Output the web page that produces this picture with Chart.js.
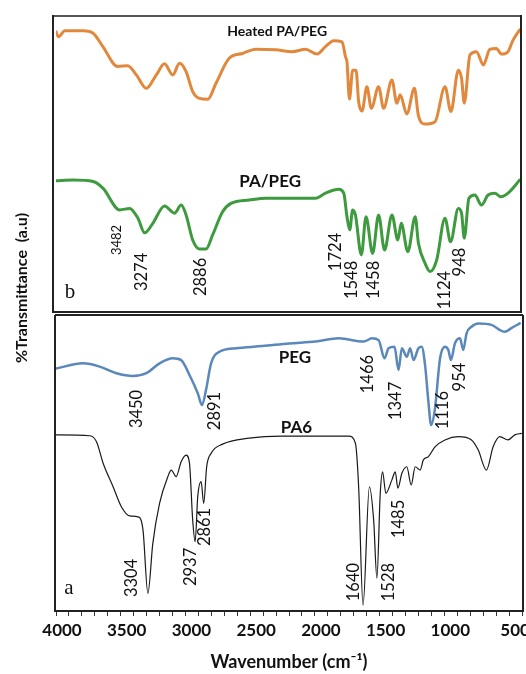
<!DOCTYPE html>
<html><head><meta charset="utf-8">
<script src="https://cdn.jsdelivr.net/npm/chart.js@4.4.1/dist/chart.umd.min.js"></script>
<style>html,body{margin:0;padding:0;background:#fff;}#wrap{position:relative;width:526px;height:674px;}canvas{display:block;}</style>
</head><body><div id="wrap"><canvas id="c" width="526" height="674"></canvas></div>
<script>
// ---- Data (wavenumber in cm-1, transmittance in arbitrary offset units) ----
const heatedWn = [4000,3982,3931,3790,3713,3638,3523,3446,3379,3302,3225,3162,3098,3046,2995,2944,2892,2828,2764,2662,2559,2456,2302,2175,2072,1982,1918,1854,1790,1764,1752,1733,1708,1682,1662,1636,1598,1564,1508,1469,1405,1367,1341,1290,1231,1200,1149,1072,995,949,892,867,846,802,752,698,649,598,559,508,470,418];
const heatedT  = [194.4,192.7,194.7,194.7,193.9,189.4,182.7,183.0,179.9,175.4,179.9,183.6,179.9,183.8,181.0,174.3,172.0,171.7,177.1,185.5,187.1,188.5,188.3,187.7,188.5,186.9,189.4,191.4,191.0,186.0,184.2,171.8,181.5,181.5,170.9,167.8,175.9,168.7,175.9,168.7,178.2,170.4,173.2,166.8,175.4,166.2,163.4,164.2,175.9,167.6,181.5,178.8,170.4,186.6,187.7,183.2,188.5,188.8,186.9,187.7,191.5,195.0];

const paPegWn = [4000,3867,3713,3636,3508,3431,3367,3315,3252,3162,3085,3033,2995,2944,2892,2841,2790,2713,2648,2508,2379,2200,1995,1918,1815,1777,1752,1731,1708,1687,1641,1605,1554,1508,1462,1405,1359,1333,1282,1225,1200,1149,1110,1059,995,952,892,867,846,810,764,713,662,610,564,508,418];
const paPegT  = [144.4,144.6,144.1,141.8,134.6,135.1,131.8,126.9,130.1,135.9,133.5,136.2,132.9,124.5,121.5,121.5,126.2,134.0,136.8,137.9,138.5,138.5,138.5,140.2,141.5,140.2,132.3,127.9,134.6,132.9,119.5,132.3,120.0,132.9,121.1,132.9,124.5,130.1,120.6,132.3,123.4,116.7,113.9,117.8,131.8,123.9,135.1,133.5,125.1,138.5,139.6,136.2,139.6,140.2,139.0,140.2,144.6];

const pegWn = [4000,3790,3662,3533,3405,3302,3200,3098,3033,2969,2905,2872,2841,2802,2738,2610,2405,2200,1995,1815,1623,1559,1508,1462,1431,1385,1354,1328,1290,1264,1238,1200,1175,1149,1123,1102,1072,1033,995,969,949,918,879,854,828,790,738,636,533,482,418];
const pegT  = [81.4,83.1,82.0,79.8,78.9,79.8,83.1,84.8,84.2,79.2,73.1,69.1,74.2,83.1,87.0,88.2,88.9,89.8,90.4,91.5,90.4,91.5,90.9,84.8,88.2,88.7,80.9,88.2,85.3,88.2,84.2,88.2,88.7,82.6,70.2,62.4,68.0,84.8,88.7,87.6,84.2,89.8,91.5,87.6,93.2,95.4,96.5,96.0,93.7,94.9,96.5];

const pa6Wn = [4000,3738,3687,3636,3559,3495,3431,3367,3328,3290,3252,3200,3136,3110,3072,3033,2995,2969,2944,2925,2905,2879,2859,2836,2802,2713,2508,2252,1995,1738,1687,1662,1628,1579,1546,1521,1495,1477,1452,1405,1379,1359,1328,1290,1256,1225,1187,1162,1123,1072,995,892,790,738,675,623,572,508,456,405];
const pa6T  = [59.1,58.8,56.8,49.6,41.7,35.0,31.9,31.6,27.2,5.9,22.7,36.1,45.1,47.3,45.1,50.1,52.3,49.6,30.5,23.3,38.4,43.4,36.1,48.4,52.9,56.0,58.0,58.7,58.7,58.7,56.3,41.7,2.0,41.7,30.5,11.0,39.5,46.7,39.5,44.0,46.7,41.2,46.2,48.4,42.3,48.4,47.3,50.7,51.8,55.1,57.4,58.5,57.4,54.0,47.3,55.1,58.5,57.4,59.1,59.6];

const xTickLabels = [4000,3500,3000,2500,2000,1500,1000,500];
const minorTickStep = 100;

const seriesNames = ['Heated PA/PEG','PA/PEG','PEG','PA6'];
const seriesNameWn = [2292,2346,2154,2142];
const seriesNameT  = [194.6,144.1,84.9,61.7];

const peakText = ['3482','3274','2886','1724','1548','1458','1124','948','3450','2891','1466','1347','1116','954','3304','2937','2861','1640','1528','1485'];
const peakWn   = [3527,3342,2885,1842,1715,1546,1000,885,3373,2773,1596,1373,1015,885,3419,2962,2850,1700,1431,1354];
const peakT    = [124.5,113.8,112.1,120.5,111.1,111.1,107.7,117.1,67.8,67.1,79.5,70.5,67.4,78.5,11.1,14.8,28.2,9.7,9.7,30.9];

const panelLetters = ['b','a'];
const panelLetterWn = [3892,3900];
const panelLetterT  = [107.0,7.7];

const toXY = (wn, t) => wn.map((w, i) => ({x: w, y: t[i]}));

const framePlugin = {
  id: 'frames',
  afterDraw(chart) {
    const {ctx, chartArea: a, scales: {y}} = chart;
    const mid = y.getPixelForValue(100);
    ctx.save();
    ctx.strokeStyle = '#222';
    ctx.lineWidth = 2;
    // top panel (b)
    ctx.strokeStyle = '#555';
    ctx.beginPath(); ctx.moveTo(a.left - 3, a.top + 1); ctx.lineTo(a.right - 1, a.top + 1); ctx.stroke();
    ctx.strokeStyle = '#222';
    ctx.beginPath();
    ctx.moveTo(a.left - 3, a.top); ctx.lineTo(a.left - 3, mid - 1);
    ctx.lineTo(a.right - 1, mid - 1); ctx.lineTo(a.right - 1, a.top);
    ctx.stroke();
    // bottom panel (a)
    ctx.beginPath();
    ctx.moveTo(a.left - 1, mid + 2); ctx.lineTo(a.right + 1, mid + 2);
    ctx.moveTo(a.left - 1, mid + 2); ctx.lineTo(a.left - 1, a.bottom);
    ctx.lineTo(a.right + 1, a.bottom); ctx.lineTo(a.right + 1, mid + 2);
    ctx.stroke();
    ctx.restore();
  }
};

const textPlugin = {
  id: 'texts',
  afterDatasetsDraw(chart) {
    const {ctx, scales: {x, y}} = chart;
    ctx.save();
    ctx.fillStyle = '#111';
    ctx.textAlign = 'center';
    ctx.textBaseline = 'middle';
    // series names
    seriesNames.forEach((s, i) => {
      ctx.font = (i === 0 ? 'bold 14px Lato' : 'bold 17px Lato');
      ctx.fillText(s, x.getPixelForValue(seriesNameWn[i]), y.getPixelForValue(seriesNameT[i]));
    });
    // peak labels (rotated)
    peakText.forEach((s, i) => {
      ctx.save();
      ctx.translate(x.getPixelForValue(peakWn[i]), y.getPixelForValue(peakT[i]));
      ctx.rotate(-Math.PI / 2);
      ctx.font = (s === '3482' ? '13px Lato' : '16.5px Lato');
      ctx.fillText(s, 0, 0);
      ctx.restore();
    });
    // panel letters
    ctx.font = '21px "Liberation Serif"';
    panelLetters.forEach((s, i) => {
      ctx.fillText(s, x.getPixelForValue(panelLetterWn[i]), y.getPixelForValue(panelLetterT[i]));
    });
    // y-axis title
    ctx.save();
    ctx.translate(22, 288);
    ctx.rotate(-Math.PI / 2);
    ctx.font = 'bold 16px Lato';
    ctx.fillText('%Transmittance  (a.u)', 0, 0);
    ctx.restore();
    ctx.restore();
  }
};

new Chart(document.getElementById('c'), {
  type: 'line',
  data: {
    datasets: [
      {label: seriesNames[0], data: toXY(heatedWn, heatedT), borderColor: '#E2883C', borderWidth: 3},
      {label: seriesNames[1], data: toXY(paPegWn, paPegT), borderColor: '#3E9A3E', borderWidth: 3},
      {label: seriesNames[2], data: toXY(pegWn, pegT), borderColor: '#5B88BA', borderWidth: 2.5},
      {label: seriesNames[3], data: toXY(pa6Wn, pa6T), borderColor: '#1a1a1a', borderWidth: 1.2}
    ]
  },
  options: {
    responsive: false,
    animation: false,
    devicePixelRatio: 1,
    elements: {
      point: {radius: 0},
      line: {cubicInterpolationMode: 'monotone', borderJoinStyle: 'round', borderCapStyle: 'round', fill: false}
    },
    plugins: {legend: {display: false}, tooltip: {enabled: false}},
    layout: {padding: {left: 0, right: 2, top: 15, bottom: 0}},
    scales: {
      x: {
        type: 'linear', reverse: true, min: 400, max: 4000,
        afterBuildTicks: s => { const t = []; for (let v = 4000; v >= 400; v -= minorTickStep) t.push({value: v}); s.ticks = t; },
        afterFit: s => { s.height = 63; },
        ticks: {
          autoSkip: false, maxRotation: 0, labelOffset: 6, padding: 4, color: '#111',
          font: {family: 'Lato', weight: 'bold', size: 17},
          callback: v => xTickLabels.includes(v) ? String(v) : ''
        },
        grid: {drawOnChartArea: false, drawTicks: true, tickLength: 5, color: '#333', lineWidth: 1},
        border: {display: false},
        title: {display: true, text: 'Wavenumber (cm⁻¹)', color: '#111', font: {family: 'Lato', weight: 'bold', size: 18}, padding: {top: 0, bottom: 1}}
      },
      y: {
        min: 0, max: 200,
        afterFit: s => { s.width = 56; },
        ticks: {display: false},
        grid: {display: false},
        border: {display: false}
      }
    }
  },
  plugins: [framePlugin, textPlugin]
});
</script>
</body></html>
